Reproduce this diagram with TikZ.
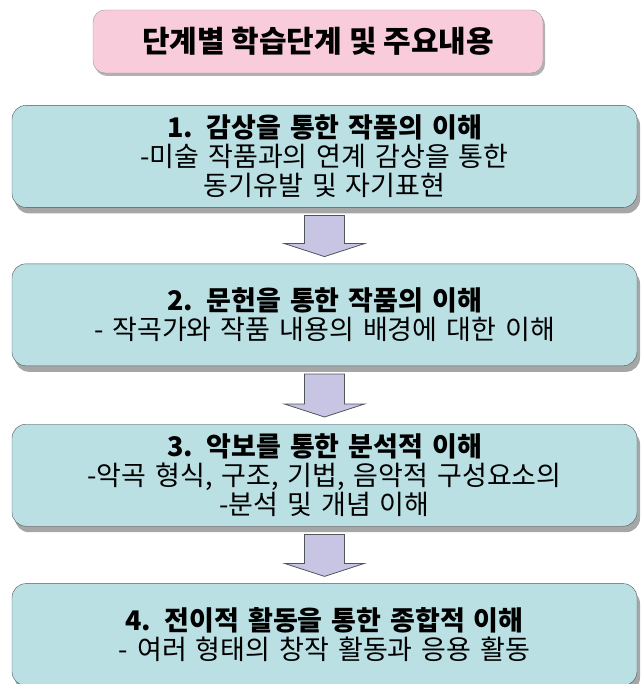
\documentclass[tikz,border=0pt]{standalone}
\usepackage{fontspec}
\setmainfont{Noto Sans CJK KR}
\usepackage{xcolor}
\usepackage{tikz}
\usetikzlibrary{positioning, calc, shadows}

\definecolor{stagecyan}{RGB}{186,224,228}
\definecolor{titlepink}{RGB}{248,204,218}
\definecolor{arrowlilac}{RGB}{200,196,228}
\definecolor{edgegray}{RGB}{78,86,90}

% block arrow from the bottom of one box to the top of the next
\newcommand{\stagearrow}[2]{%
  \draw [blockarrow] ($(#1.south)+(-20,-8)$) -- ($(#1.south)+(20,-8)$)
    -- ($(#2.north)+(20,20)$) -- ($(#2.north)+(40,20)$) -- ($(#2.north)+(0,7)$)
    -- ($(#2.north)+(-40,20)$) -- ($(#2.north)+(-20,20)$) -- cycle;}

\begin{document}
\begin{tikzpicture}[x=1pt, y=1pt]
\tikzstyle{titlebox} = [rectangle, draw=edgegray!60, fill=titlepink, rounded corners=12pt,
    minimum width=450pt, minimum height=63pt, font=\fontsize{30pt}{34pt}\selectfont\bfseries,
    drop shadow={shadow xshift=2pt, shadow yshift=-3pt, fill=black!30, opacity=1}]
\tikzstyle{stagebox} = [rectangle, draw=edgegray, fill=stagecyan, rounded corners=14pt,
    minimum width=625pt, minimum height=102pt, text width=610pt, align=center,
    inner sep=4pt, font=\fontsize{27pt}{29pt}\selectfont,
    drop shadow={shadow xshift=3pt, shadow yshift=-6pt, fill=black!35, opacity=1}]
\tikzstyle{blockarrow} = [draw=edgegray, fill=arrowlilac, line width=0.8pt, line join=miter]

\useasboundingbox (0,0) rectangle (640,-684);

% Nodes
\node [titlebox] (title) at (318,-41.5) {단계별 학습단계 및 주요내용};
\node [stagebox, below=32pt of title, xshift=6.5pt] (stage1)
    {\textbf{1. 감상을 통한 작품의 이해}\\ -미술 작품과의 연계 감상을 통한\\ 동기유발 및 자기표현};
\node [stagebox, below=56pt of stage1] (stage2)
    {\textbf{2. 문헌을 통한 작품의 이해}\\ - 작곡가와 작품 내용의 배경에 대한 이해};
\node [stagebox, below=58pt of stage2] (stage3)
    {\textbf{3. 악보를 통한 분석적 이해}\\ -악곡 형식, 구조, 기법, 음악적 구성요소의\\ -분석 및 개념 이해};
\node [stagebox, below=57pt of stage3] (stage4)
    {\textbf{4. 전이적 활동을 통한 종합적 이해}\\ - 여러 형태의 창작 활동과 응용 활동};

% Arrows
\stagearrow{stage1}{stage2}
\stagearrow{stage2}{stage3}
\stagearrow{stage3}{stage4}
\end{tikzpicture}
\end{document}
